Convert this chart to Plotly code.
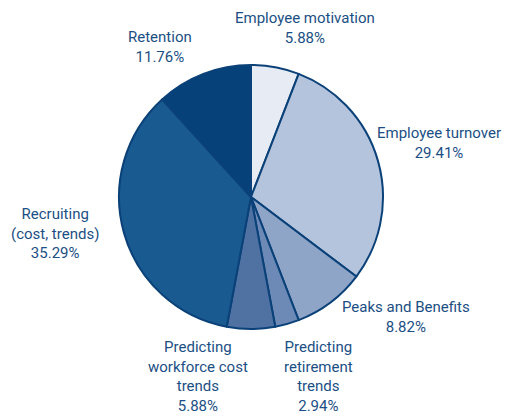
import plotly.graph_objects as go

# share of analytics use cases (out of 34 responses)
labels = [
    "Employee motivation",
    "Employee turnover",
    "Peaks and Benefits",
    "Predicting retirement trends",
    "Predicting workforce cost trends",
    "Recruiting (cost, trends)",
    "Retention",
]
display_labels = [
    "Employee motivation",
    "Employee turnover",
    "Peaks and Benefits",
    "Predicting<br>retirement<br>trends",
    "Predicting<br>workforce cost<br>trends",
    "Recruiting<br>(cost, trends)",
    "Retention",
]
percents = [5.88, 29.41, 8.82, 2.94, 5.88, 35.29, 11.76]
colors = ["#e7ebf4", "#b5c4dd", "#8fa5c8", "#6d8ab7", "#4f72a3", "#195a91", "#064279"]

# page has an 8px body margin, so the figure is drawn a bit smaller
OFF = 8
W, H = 519 - OFF, 416 - OFF


def px(x, y):
    # screen pixel -> paper coords
    return (x - OFF) / W, 1 - (y - OFF) / H


# label block centres in screen pixels
label_xy = [(305, 28), (439, 143), (406, 317), (318, 376), (198, 376), (55, 233), (160, 47)]

cx, cy, r = 251 - OFF, 197 - OFF, 132

fig = go.Figure(go.Pie(
    labels=labels,
    values=percents,
    sort=False,
    direction="clockwise",
    rotation=0,
    textinfo="none",
    hoverinfo="label+percent",
    marker=dict(colors=colors, line=dict(color="#0a4178", width=2)),
    domain=dict(x=[(cx - r) / W, (cx + r) / W],
                y=[(H - cy - r) / H, (H - cy + r) / H]),
    showlegend=False,
))

for lab, pct, (sx, sy) in zip(display_labels, percents, label_xy):
    x, y = px(sx, sy)
    fig.add_annotation(
        x=x, y=y, xref="paper", yref="paper",
        text=f"{lab}<br>{pct:.2f}%",
        showarrow=False, xanchor="center", yanchor="middle", align="center",
        font=dict(size=15, color="#1b4f84"),
    )

fig.update_layout(
    width=W, height=H,
    margin=dict(l=0, r=0, t=0, b=0),
    paper_bgcolor="white",
    plot_bgcolor="white",
    font=dict(family="Roboto, Arial, sans-serif"),
)

fig.write_html("out.html")
